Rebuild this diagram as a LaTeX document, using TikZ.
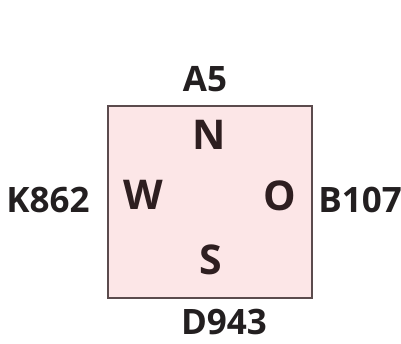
\documentclass[tikz,border=0pt]{standalone}
\usepackage{fontspec}
\setmainfont{Open Sans}
\usepackage{tikz}
\usetikzlibrary{positioning}
\definecolor{roomfill}{HTML}{FCE6E7}
\definecolor{roomedge}{HTML}{5B4B4D}
\definecolor{letterdark}{HTML}{2E1E20}
\definecolor{labeldark}{HTML}{231F20}

\tikzset{
  dirlabel/.style={inner sep=0pt, text=letterdark, font=\fontsize{41}{41}\selectfont\bfseries},
  sidelabel/.style={inner sep=0pt, text=labeldark, font=\fontsize{35}{35}\selectfont\bfseries}
}

\begin{document}
\begin{tikzpicture}[x=1pt,y=-1pt]
    \useasboundingbox (0,0) rectangle (401,344);
    % the room
    \node[draw=roomedge, fill=roomfill, line width=1.3pt, inner sep=0pt,
          minimum width=204pt, minimum height=192pt] (room) at (210,202) {};
    % directions inside
    \node[dirlabel] (north) at (209,135) {N};
    \node[dirlabel] (west) at (143,195) {W};
    \node[dirlabel] (east) at (280,196) {O};
    \node[dirlabel] (south) at (211,260) {S};
    % labels around
    \node[sidelabel] (top) at (205,79) {A5};
    \node[sidelabel] (left) at (48,200) {K862};
    \node[sidelabel] (right) at (360,200) {B107};
    \node[sidelabel] (bottom) at (224,322) {D943};
  \end{tikzpicture}
\end{document}
